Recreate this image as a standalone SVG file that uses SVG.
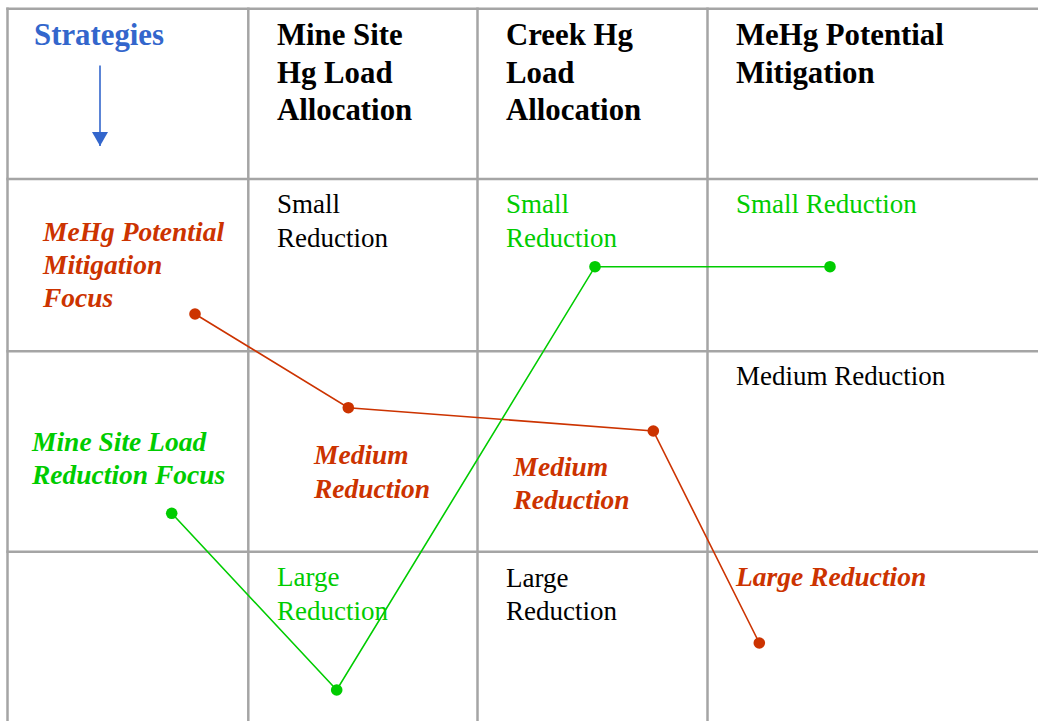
<svg xmlns="http://www.w3.org/2000/svg" width="1038" height="721" viewBox="0 0 1038 721">
  <style>
    .grid { stroke: #A5A5A5; stroke-width: 2.5; fill: none; }
    .head { font-family: "Liberation Serif", "Times New Roman", serif; font-size: 30.8px; font-weight: bold; fill: #000; }
    .body { font-family: "Liberation Serif", "Times New Roman", serif; font-size: 27px; }
    .focus { font-family: "Liberation Serif", "Times New Roman", serif; font-size: 27.5px; font-weight: bold; font-style: italic; }
    .red { fill: #CC3300; }
    .green { fill: #00CC00; }
    .blue { fill: #3366CC; }
    .black { fill: #000; }
    .redline { stroke: #CC3300; stroke-width: 1.6; fill: none; }
    .greenline { stroke: #00CC00; stroke-width: 1.6; fill: none; }
  </style>
  <defs>
    <marker id="arrowDown" viewBox="0 0 14 16" refX="14" refY="8" markerWidth="14" markerHeight="16" markerUnits="userSpaceOnUse" orient="auto">
      <path d="M0,0 L14,8 L0,16 Z" fill="#3366CC"/>
    </marker>
  </defs>
  <rect width="1038" height="721" fill="#fff"/>

  <!-- table grid -->
  <g id="grid">
    <line class="grid" x1="6.3" y1="8.7" x2="1038" y2="8.7"/>
    <line class="grid" x1="7.5" y1="7.5" x2="7.5" y2="721"/>
    <line class="grid" x1="248.3" y1="7.5" x2="248.3" y2="721"/>
    <line class="grid" x1="477.5" y1="7.5" x2="477.5" y2="721"/>
    <line class="grid" x1="707.5" y1="7.5" x2="707.5" y2="721"/>
    <line class="grid" x1="6.3" y1="179" x2="1038" y2="179"/>
    <line class="grid" x1="6.3" y1="351.3" x2="1038" y2="351.3"/>
    <line class="grid" x1="6.3" y1="551.7" x2="1038" y2="551.7"/>
  </g>

  <!-- column headers -->
  <g id="header-strategies">
    <text class="head blue" x="34" y="45">Strategies</text>
    <line x1="100" y1="65.5" x2="100" y2="146" stroke="#3366CC" stroke-width="1.6" marker-end="url(#arrowDown)"/>
  </g>
  <g id="header-mine-site">
    <text class="head" x="277" y="45">Mine Site</text>
    <text class="head" x="277" y="82.5">Hg Load</text>
    <text class="head" x="277" y="120">Allocation</text>
  </g>
  <g id="header-creek">
    <text class="head" x="506" y="45">Creek Hg</text>
    <text class="head" x="506" y="82.5">Load</text>
    <text class="head" x="506" y="120">Allocation</text>
  </g>
  <g id="header-mehg">
    <text class="head" x="736" y="45">MeHg Potential</text>
    <text class="head" x="736" y="82.5">Mitigation</text>
  </g>

  <!-- strategy labels -->
  <g id="strategy-mehg-focus">
    <text class="focus red" x="43" y="240.5">MeHg Potential</text>
    <text class="focus red" x="43" y="274">Mitigation</text>
    <text class="focus red" x="43" y="306.5">Focus</text>
  </g>
  <g id="strategy-mine-focus">
    <text class="focus green" x="32" y="450.5">Mine Site Load</text>
    <text class="focus green" x="32" y="484">Reduction Focus</text>
  </g>

  <!-- row 1: small reduction -->
  <g id="cell-mine-small">
    <text class="body black" x="277" y="213">Small</text>
    <text class="body black" x="277" y="246.5">Reduction</text>
  </g>
  <g id="cell-creek-small">
    <text class="body green" x="506" y="213">Small</text>
    <text class="body green" x="506" y="246.5">Reduction</text>
  </g>
  <g id="cell-mehg-small">
    <text class="body green" x="736" y="213">Small Reduction</text>
  </g>

  <!-- row 2: medium reduction -->
  <g id="cell-mine-medium">
    <text class="focus red" x="314" y="463.5">Medium</text>
    <text class="focus red" x="314" y="497.5">Reduction</text>
  </g>
  <g id="cell-creek-medium">
    <text class="focus red" x="513.5" y="475.5">Medium</text>
    <text class="focus red" x="513.5" y="509">Reduction</text>
  </g>
  <g id="cell-mehg-medium">
    <text class="body black" x="736" y="385">Medium Reduction</text>
  </g>

  <!-- row 3: large reduction -->
  <g id="cell-mine-large">
    <text class="body green" x="277" y="586">Large</text>
    <text class="body green" x="277" y="619.5">Reduction</text>
  </g>
  <g id="cell-creek-large">
    <text class="body black" x="506" y="586.5">Large</text>
    <text class="body black" x="506" y="619.5">Reduction</text>
  </g>
  <g id="cell-mehg-large">
    <text class="focus red" x="736" y="585.5">Large Reduction</text>
  </g>

  <!-- strategy paths through the table -->
  <g id="connectors">
    <polyline class="redline" points="195,314 348.3,407.7 653.3,431 759.3,643"/>
    <polyline class="greenline" points="171.7,513.3 336.7,690 595,266.7 830,266.7"/>
    <g class="red">
      <circle cx="195" cy="314" r="5.8"/>
      <circle cx="348.3" cy="407.7" r="5.8"/>
      <circle cx="653.3" cy="431" r="5.8"/>
      <circle cx="759.3" cy="643" r="5.8"/>
    </g>
    <g class="green">
      <circle cx="171.7" cy="513.3" r="5.8"/>
      <circle cx="336.7" cy="690" r="5.8"/>
      <circle cx="595" cy="266.7" r="5.8"/>
      <circle cx="830" cy="266.7" r="5.8"/>
    </g>
  </g>
</svg>
